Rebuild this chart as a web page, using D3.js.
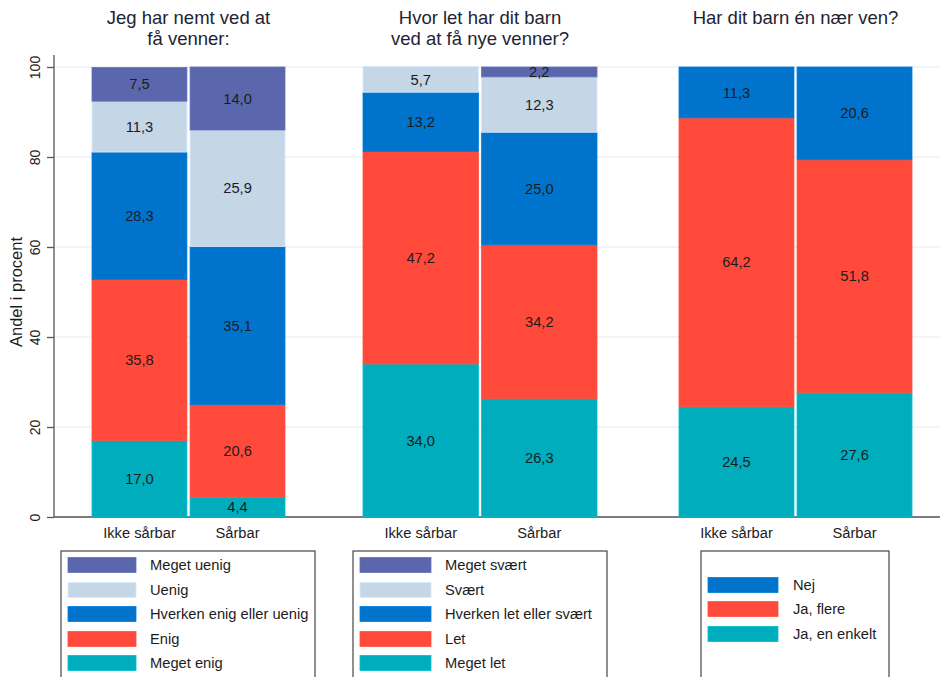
<!DOCTYPE html>
<html><head><meta charset="utf-8">
<script src="https://cdn.jsdelivr.net/npm/d3@7"></script>
<style>body{margin:0;background:#fff}svg{display:block;font-family:"Liberation Sans",Arial,sans-serif}</style>
</head><body><svg id="c" width="940" height="677"></svg>
<script>
const groups = ["Ikke sårbar", "Sårbar"];
const yTicks = [0, 20, 40, 60, 80, 100];

const titles1 = ["Jeg har nemt ved at", "få venner:"];
const cats1 = ["Meget enig", "Enig", "Hverken enig eller uenig", "Uenig", "Meget uenig"];
const ikke1 = [17.0, 35.8, 28.3, 11.3, 7.5];
const saar1 = [4.4, 20.6, 35.1, 25.9, 14.0];

const titles2 = ["Hvor let har dit barn", "ved at få nye venner?"];
const cats2 = ["Meget let", "Let", "Hverken let eller svært", "Svært", "Meget svært"];
const ikke2 = [34.0, 47.2, 13.2, 5.7, 0];
const saar2 = [26.3, 34.2, 25.0, 12.3, 2.2];

const titles3 = ["Har dit barn én nær ven?"];
const cats3 = ["Ja, en enkelt", "Ja, flere", "Nej"];
const ikke3 = [24.5, 64.2, 11.3];
const saar3 = [27.6, 51.8, 20.6];

const colors5 = ["#00adbc", "#ff4a3b", "#0074cc", "#c5d6e7", "#5a67ac"];
const colors3 = ["#00adbc", "#ff4a3b", "#0074cc"];

const svg = d3.select("#c");
const y = d3.scaleLinear().domain([0, 100]).range([517, 67]);
const fmt = v => d3.format(".1f")(v).replace(".", ",");
const txt = "#1c1c1c";
const fs = "14.7px";

// gridlines
svg.append("g").selectAll("line").data(yTicks).join("line")
  .attr("x1", 54).attr("x2", 940).attr("y1", d => y(d)).attr("y2", d => y(d))
  .attr("stroke", "#eef1f7").attr("stroke-width", 1.5);

// y axis
const ya = svg.append("g").attr("transform", "translate(54,0)")
  .call(d3.axisLeft(y).tickValues(yTicks).tickSize(7).tickPadding(4));
ya.select(".domain").attr("stroke", "#555").attr("stroke-width", 1.3).attr("d", "M0," + y(0) + "V" + (y(100) - 12));
ya.selectAll(".tick line").attr("stroke", "#555").attr("stroke-width", 1.3);
ya.selectAll(".tick text").attr("transform", "rotate(-90)").attr("x", 0).attr("y", -19)
  .attr("dy", "0.35em").attr("text-anchor", "middle").style("font-size", "14px").attr("fill", txt)
  .attr("font-family", "Liberation Sans, Arial, sans-serif");
// x baseline
svg.append("line").attr("x1", 54).attr("x2", 940).attr("y1", y(0)).attr("y2", y(0))
  .attr("stroke", "#555").attr("stroke-width", 1.3);

svg.append("text").attr("transform", "translate(22,292) rotate(-90)").attr("text-anchor", "middle")
  .style("font-size", "16.5px").attr("fill", txt).text("Andel i procent");

const panels = [
  {titles: titles1, cats: cats1, data: [ikke1, saar1], colors: colors5, range: [92, 285], pad: 0.032,
   legend: {x: 61, w: 254, sw: 68, tx: 150, rows: [663, 639, 614, 590, 565]}},
  {titles: titles2, cats: cats2, data: [ikke2, saar2], colors: colors5, range: [363, 597], pad: 0.026,
   legend: {x: 353, w: 254, sw: 71, tx: 445, rows: [663, 639, 614, 590, 565]}},
  {titles: titles3, cats: cats3, data: [ikke3, saar3], colors: colors3, range: [679, 912], pad: 0.026,
   legend: {x: 701, w: 188, sw: 70, tx: 793, rows: [634, 609, 585]}}
];

panels.forEach(p => {
  const x = d3.scaleBand().domain(groups).range(p.range).paddingInner(p.pad).paddingOuter(0);
  const g = svg.append("g");
  groups.forEach((grp, gi) => {
    const vals = p.data[gi];
    let cum = 0;
    vals.forEach((v, i) => {
      const y0 = cum, y1 = cum + v;
      cum = y1;
      if (v <= 0) return;
      g.append("rect").attr("x", x(grp)).attr("width", x.bandwidth())
        .attr("y", y(y1)).attr("height", y(y0) - y(y1))
        .attr("fill", p.colors[i]).attr("stroke", d3.color(p.colors[i]).brighter(0.25)).attr("stroke-width", 0.8);
      g.append("text").attr("x", x(grp) + x.bandwidth() / 2).attr("y", y((y0 + y1) / 2))
        .attr("dy", "0.35em").attr("text-anchor", "middle").style("font-size", fs)
        .attr("fill", txt).text(fmt(v));
    });
    g.append("text").attr("x", x(grp) + x.bandwidth() / 2).attr("y", 538)
      .attr("text-anchor", "middle").style("font-size", fs).attr("fill", txt).text(grp);
  });
  const cx = (p.range[0] + p.range[1]) / 2;
  p.titles.forEach((t, i) => {
    g.append("text").attr("x", cx).attr("y", 24 + i * 21).attr("text-anchor", "middle")
      .style("font-size", "18.5px").attr("fill", "#1e2433").text(t);
  });
  // legend
  const L = p.legend;
  g.append("rect").attr("x", L.x).attr("y", 551).attr("width", L.w).attr("height", 150)
    .attr("fill", "none").attr("stroke", "#555").attr("stroke-width", 1.3);
  p.cats.forEach((c, i) => {
    g.append("rect").attr("x", L.x + 7).attr("y", L.rows[i] - 7.5).attr("width", L.sw).attr("height", 15)
      .attr("fill", p.colors[i]).attr("stroke", d3.color(p.colors[i]).brighter(0.25)).attr("stroke-width", 0.8);
    g.append("text").attr("x", L.tx).attr("y", L.rows[i]).attr("dy", "0.35em")
      .style("font-size", fs).attr("fill", txt).text(c);
  });
});
</script></body></html>
